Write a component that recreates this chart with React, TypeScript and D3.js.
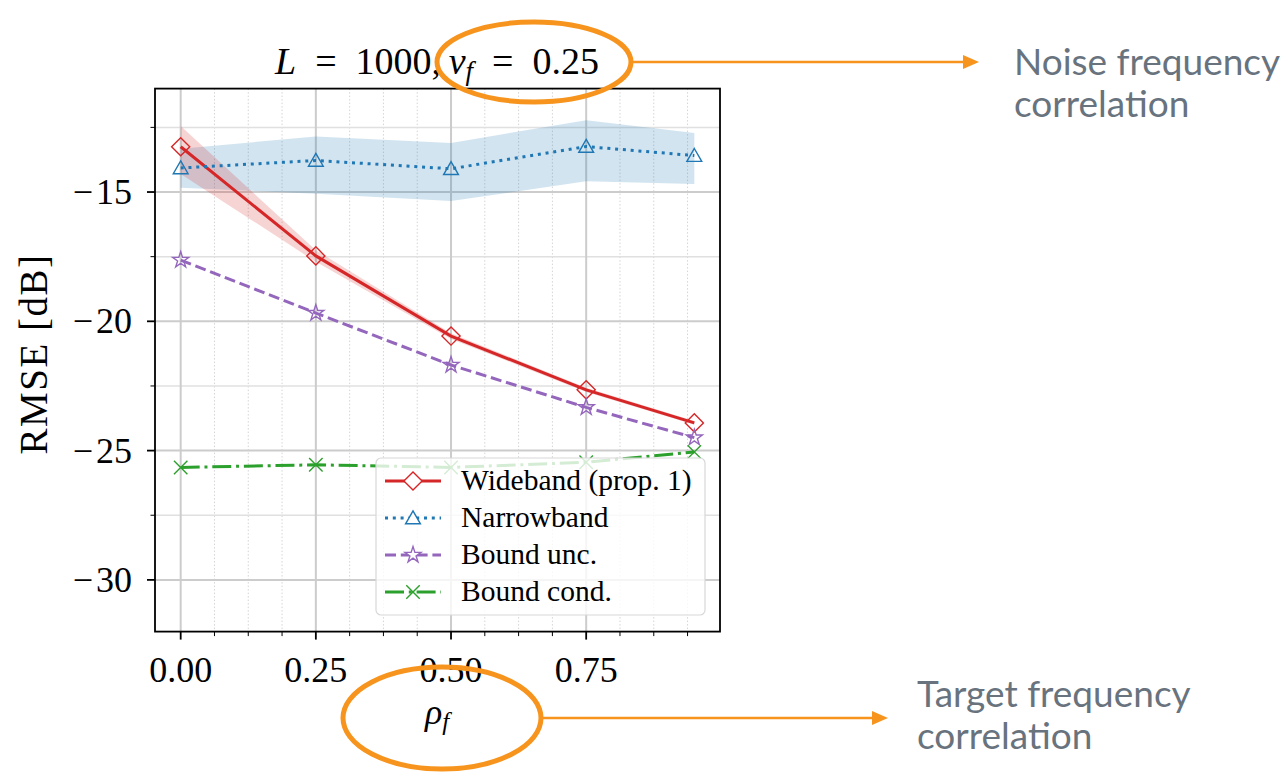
import React, { useRef, useEffect } from 'react'
import * as d3 from 'd3'

// rho_f values (x)
const rhoF = [0, 0.25, 0.5, 0.75, 0.95]

// RMSE [dB] per series
const wideband = [-13.25, -17.47, -20.57, -22.65, -23.93]
const widebandLow = [-14.3, -17.7, -20.68, -22.73, -24.0]
const widebandHigh = [-12.45, -17.25, -20.46, -22.57, -23.86]

const narrowband = [-14.07, -13.78, -14.1, -13.24, -13.59]
const narrowbandLow = [-14.83, -15.07, -15.35, -14.58, -14.69]
const narrowbandHigh = [-13.33, -12.85, -13.1, -12.22, -12.72]

const boundUnc = [-17.63, -19.68, -21.69, -23.33, -24.5]
const boundCond = [-25.65, -25.55, -25.65, -25.45, -25.05]

const xTicks = [0, 0.25, 0.5, 0.75]
const xMinor = [0.0625, 0.125, 0.1875, 0.3125, 0.375, 0.4375, 0.5625, 0.625, 0.6875, 0.8125, 0.875, 0.9375]
const yTicks = [-30, -25, -20, -15]
const yMinor = [-27.5, -22.5, -17.5, -12.5]

const legendLabels = ['Wideband (prop. 1)', 'Narrowband', 'Bound unc.', 'Bound cond.']

const W = 1288
const H = 772
const serif = '"Liberation Serif", "DejaVu Serif", serif'
const sans = 'Lato, "Open Sans", sans-serif'
const orange = '#f7941d'
const noteGray = '#68737e'

function App() {
  const ref = useRef<SVGSVGElement>(null)

  useEffect(() => {
    const svg = d3.select(ref.current)
    svg.selectAll('*').remove()

    const left = 155, right = 720, top = 88.6, bottom = 631.6

    const x = d3.scaleLinear().domain([-0.0475, 0.9975]).range([left, right])
    const y = d3.scaleLinear().domain([-32, -11]).range([bottom, top])

    const series = [
      { name: legendLabels[0], vals: wideband, color: '#d62728', dash: 'none', marker: 'diamond' },
      { name: legendLabels[1], vals: narrowband, color: '#1f77b4', dash: '3,4.8', marker: 'triangle' },
      { name: legendLabels[2], vals: boundUnc, color: '#9467bd', dash: '11,4.8', marker: 'star' },
      { name: legendLabels[3], vals: boundCond, color: '#2ca02c', dash: '19,4.8,3,4.8', marker: 'x' },
    ]

    const markerPath = (m: string) => {
      if (m === 'diamond') return d3.symbol().type(d3.symbolSquare).size(165)()
      if (m === 'triangle') return d3.symbol().type(d3.symbolTriangle).size(95)()
      if (m === 'star') return d3.symbol().type(d3.symbolStar).size(80)()
      return d3.symbol().type(d3.symbolTimes).size(120)()
    }
    const markerRot = (m: string) => (m === 'diamond' ? 45 : 0)
    const markerDy = (m: string) => (m === 'triangle' ? 1.5 : 0)

    const g = svg.append('g')

    // grid
    g.selectAll('.xminor').data(xMinor).enter().append('line')
      .attr('x1', d => x(d)).attr('x2', d => x(d)).attr('y1', top).attr('y2', bottom)
      .attr('stroke', '#d4d4d4').attr('stroke-width', 1).attr('stroke-dasharray', '1.5,2')
    g.selectAll('.yminor').data(yMinor).enter().append('line')
      .attr('x1', left).attr('x2', right).attr('y1', d => y(d)).attr('y2', d => y(d))
      .attr('stroke', '#e0e0e0').attr('stroke-width', 1.5)
    g.selectAll('.xgrid').data(xTicks).enter().append('line')
      .attr('x1', d => x(d)).attr('x2', d => x(d)).attr('y1', top).attr('y2', bottom)
      .attr('stroke', '#cccccc').attr('stroke-width', 2)
    g.selectAll('.ygrid').data(yTicks).enter().append('line')
      .attr('x1', left).attr('x2', right).attr('y1', d => y(d)).attr('y2', d => y(d))
      .attr('stroke', '#cccccc').attr('stroke-width', 2)

    // bands
    const area = d3.area<number>()
      .x((_, i) => x(rhoF[i]))
    g.append('path')
      .attr('d', area.y0((_, i) => y(narrowbandLow[i])).y1((_, i) => y(narrowbandHigh[i]))(rhoF))
      .attr('fill', '#1f77b4').attr('opacity', 0.2)
    g.append('path')
      .attr('d', area.y0((_, i) => y(widebandLow[i])).y1((_, i) => y(widebandHigh[i]))(rhoF))
      .attr('fill', '#d62728').attr('opacity', 0.2)

    // lines + markers
    series.forEach(s => {
      const line = d3.line<number>().x((_, i) => x(rhoF[i])).y(d => y(d))
      g.append('path').attr('d', line(s.vals)).attr('fill', 'none')
        .attr('stroke', s.color).attr('stroke-width', 3)
        .attr('stroke-dasharray', s.dash)
      g.selectAll(null).data(s.vals).enter().append('path')
        .attr('d', markerPath(s.marker))
        .attr('transform', (d, i) => `translate(${x(rhoF[i])},${y(d) + markerDy(s.marker)}) rotate(${markerRot(s.marker)})`)
        .attr('fill', 'none').attr('stroke', s.color).attr('stroke-width', 1.4)
    })

    // frame
    g.append('rect').attr('x', left).attr('y', top).attr('width', right - left).attr('height', bottom - top)
      .attr('fill', 'none').attr('stroke', '#000').attr('stroke-width', 1.8)

    // ticks
    g.selectAll('.xt').data(xTicks).enter().append('line')
      .attr('x1', d => x(d)).attr('x2', d => x(d)).attr('y1', bottom).attr('y2', bottom + 8)
      .attr('stroke', '#000').attr('stroke-width', 1.8)
    g.selectAll('.xm').data(xMinor).enter().append('line')
      .attr('x1', d => x(d)).attr('x2', d => x(d)).attr('y1', bottom).attr('y2', bottom + 4.5)
      .attr('stroke', '#000').attr('stroke-width', 1)
    g.selectAll('.yt').data(yTicks).enter().append('line')
      .attr('x1', left - 8).attr('x2', left).attr('y1', d => y(d)).attr('y2', d => y(d))
      .attr('stroke', '#000').attr('stroke-width', 1.8)
    g.selectAll('.ym').data(yMinor).enter().append('line')
      .attr('x1', left - 4.5).attr('x2', left).attr('y1', d => y(d)).attr('y2', d => y(d))
      .attr('stroke', '#000').attr('stroke-width', 1)

    g.selectAll('.xl').data(xTicks).enter().append('text')
      .attr('x', d => x(d)).attr('y', 682).attr('text-anchor', 'middle')
      .attr('font-family', serif).attr('font-size', 36).text(d => d3.format('.2f')(d))
    g.selectAll('.yl').data(yTicks).enter().append('text')
      .attr('x', 132).attr('y', d => y(d) + 12).attr('text-anchor', 'end')
      .attr('font-family', serif).attr('font-size', 36).text(d => '\u2212\u200A' + Math.abs(d))

    // axis labels
    g.append('text').attr('transform', 'translate(47,354) rotate(-90)').attr('text-anchor', 'middle')
      .attr('font-family', serif).attr('font-size', 39).attr('letter-spacing', 1.5).text('RMSE [dB]')
    const xl = g.append('text').attr('x', 437).attr('y', 724).attr('text-anchor', 'middle')
      .attr('font-family', serif).attr('font-size', 36)
    xl.append('tspan').attr('font-style', 'italic').text('ρ')
    xl.append('tspan').attr('font-style', 'italic').attr('font-size', 25).attr('dy', 6).text('f')

    // title
    const t = g.append('text').attr('x', 437).attr('y', 74).attr('text-anchor', 'middle')
      .attr('font-family', serif).attr('font-size', 38)
    t.append('tspan').attr('font-style', 'italic').text('L')
    t.append('tspan').text('\u2002=\u20021000,\u2009')
    t.append('tspan').attr('font-style', 'italic').text('v')
    t.append('tspan').attr('font-style', 'italic').attr('font-size', 27).attr('dy', 6).text('f')
    t.append('tspan').attr('dy', -6).text('\u2002=\u20020.25')

    // legend
    const lg = g.append('g')
    lg.append('rect').attr('x', 376).attr('y', 458).attr('width', 329).attr('height', 157).attr('rx', 5)
      .attr('fill', 'white').attr('fill-opacity', 0.8).attr('stroke', '#d8d8d8').attr('stroke-width', 1.2)
    series.forEach((s, i) => {
      const ly = 481 + i * 37
      lg.append('line').attr('x1', 385).attr('x2', 441).attr('y1', ly).attr('y2', ly)
        .attr('stroke', s.color).attr('stroke-width', 3).attr('stroke-dasharray', s.dash)
      lg.append('path').attr('d', markerPath(s.marker))
        .attr('transform', `translate(413,${ly + markerDy(s.marker)}) rotate(${markerRot(s.marker)})`)
        .attr('fill', 'white').attr('stroke', s.color).attr('stroke-width', 1.4)
      lg.append('text').attr('x', 461).attr('y', ly + 9).attr('font-family', serif).attr('font-size', 29.5)
        .text(s.name)
    })

    // annotations
    const ann = svg.append('g')
    ann.append('ellipse').attr('cx', 534).attr('cy', 62).attr('rx', 97).attr('ry', 40)
      .attr('fill', 'none').attr('stroke', orange).attr('stroke-width', 5)
    ann.append('ellipse').attr('cx', 442).attr('cy', 718).attr('rx', 99).attr('ry', 51)
      .attr('fill', 'none').attr('stroke', orange).attr('stroke-width', 5)
    const arrow = (x1: number, x2: number, yy: number) => {
      ann.append('line').attr('x1', x1).attr('x2', x2 - 14).attr('y1', yy).attr('y2', yy)
        .attr('stroke', orange).attr('stroke-width', 2.5)
      ann.append('path').attr('d', `M${x2 - 16},${yy - 7}L${x2},${yy}L${x2 - 16},${yy + 7}Z`).attr('fill', orange)
    }
    arrow(631, 979, 62)
    arrow(541, 888, 718)
    const note = (xx: number, yy: number, lines: string[]) => {
      lines.forEach((l, i) => {
        ann.append('text').attr('x', xx).attr('y', yy + i * 42).attr('font-family', sans)
          .attr('font-size', 37).attr('fill', noteGray).text(l)
      })
    }
    note(1014, 75, ['Noise frequency', 'correlation'])
    note(917, 707, ['Target frequency', 'correlation'])
  }, [])

  return (
    <div>
      <svg ref={ref} width={W} height={H} style={{ position: 'absolute', left: 0, top: 0, background: 'white' }} />
    </div>
  )
}

export default App
